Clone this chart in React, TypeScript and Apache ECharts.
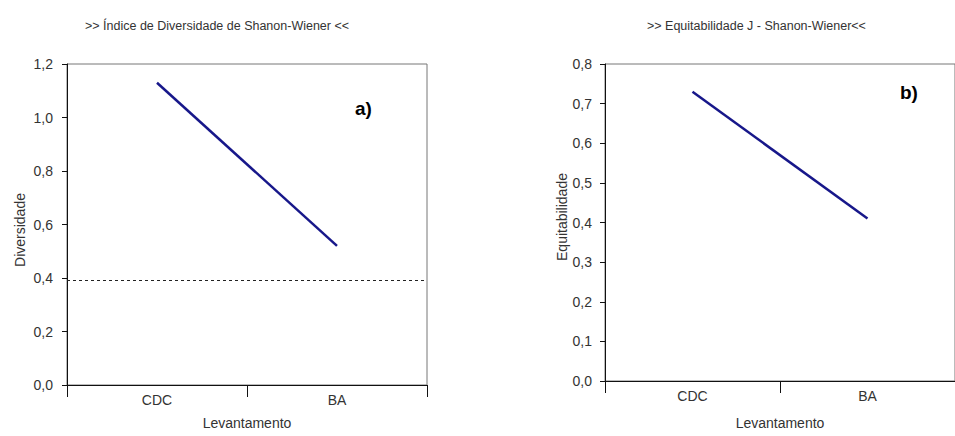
import React, { useEffect, useRef } from "react";
import * as echarts from "echarts";

const categories = ["CDC", "BA"];
const diversidade = [1.13, 0.52];
const equitabilidade = [0.73, 0.41];
const referenceLine = 0.39;
const titleA = ">> Índice de Diversidade de Shanon-Wiener <<";
const titleB = ">> Equitabilidade J - Shanon-Wiener<<";

const FONT = "Liberation Sans, Arial, sans-serif";

const fmt = (v: number) => v.toFixed(1).replace(".", ",");

export default function App() {
  const ref = useRef<HTMLDivElement>(null);
  useEffect(() => {
    if (!ref.current) return;
    const chart = echarts.init(ref.current, undefined, { renderer: "svg" });
    const xAxisBase = (gridIndex: number, gap: number) => ({
      type: "category" as const,
      gridIndex,
      data: categories,
      boundaryGap: true,
      name: "Levantamento",
      nameLocation: "middle" as const,
      nameGap: gap,
      nameTextStyle: { fontFamily: FONT, fontSize: 14, color: "#333" },
      axisLine: { show: true, lineStyle: { color: "#111", width: 1 } },
      axisTick: { show: true, length: 12, lineStyle: { color: "#111" } },
      axisLabel: { fontFamily: FONT, fontSize: 14, color: "#333", margin: 8 },
      splitLine: { show: false },
    });
    const yAxisBase = (gridIndex: number, max: number, interval: number, name: string, gap: number, padding: number[], margin: number) => ({
      type: "value" as const,
      gridIndex,
      min: 0,
      max,
      interval,
      name,
      nameLocation: "middle" as const,
      nameGap: gap,
      nameTextStyle: { fontFamily: FONT, fontSize: 14, color: "#333", padding },
      axisLine: { show: true, lineStyle: { color: "#111", width: 1 } },
      axisTick: { show: true, length: 5, lineStyle: { color: "#111" } },
      axisLabel: { fontFamily: FONT, fontSize: 14, color: "#333", margin, formatter: fmt },
      splitLine: { show: false },
    });
    chart.setOption({
      animation: false,
      backgroundColor: "#fff",
      title: [
        { text: titleA, left: 80, top: 14, textStyle: { fontFamily: FONT, fontSize: 12.5, fontWeight: "normal", color: "#333" } },
        { text: titleB, left: 642, top: 14, textStyle: { fontFamily: FONT, fontSize: 12.5, fontWeight: "normal", color: "#333" } },
      ],
      grid: [
        { left: 67, top: 64, width: 360, height: 321, show: true, borderColor: "#777", borderWidth: 1, backgroundColor: "transparent" },
        { left: 605, top: 64, width: 358, height: 317, show: true, borderColor: "#777", borderWidth: 1, backgroundColor: "transparent" },
      ],
      xAxis: [xAxisBase(0, 31), xAxisBase(1, 35)],
      yAxis: [
        yAxisBase(0, 1.2, 0.2, "Diversidade", 40, [0, 11, 0, 0], 14),
        yAxisBase(1, 0.8, 0.1, "Equitabilidade", 36, [0, 0, 0, 11], 13),
      ],
      series: [
        {
          type: "line",
          xAxisIndex: 0,
          yAxisIndex: 0,
          data: diversidade,
          symbol: "none",
          lineStyle: { color: "#17178a", width: 2.5 },
          markLine: {
            silent: true,
            symbol: "none",
            label: { show: false },
            lineStyle: { color: "#222", type: [3, 3], width: 1 },
            data: [{ yAxis: referenceLine }],
          },
        },
        {
          type: "line",
          xAxisIndex: 1,
          yAxisIndex: 1,
          data: equitabilidade,
          symbol: "none",
          lineStyle: { color: "#17178a", width: 2.5 },
        },
      ],
      graphic: [
        { type: "text", left: 355, top: 99, style: { text: "a)", font: `bold 19px ${FONT}`, fill: "#000" } },
        { type: "text", left: 900, top: 83, style: { text: "b)", font: `bold 19px ${FONT}`, fill: "#000" } },
      ],
    });
    return () => chart.dispose();
  }, []);
  return <div ref={ref} style={{ width: 955, height: 436, position: "absolute", left: 0, top: 0 }} />;
}
